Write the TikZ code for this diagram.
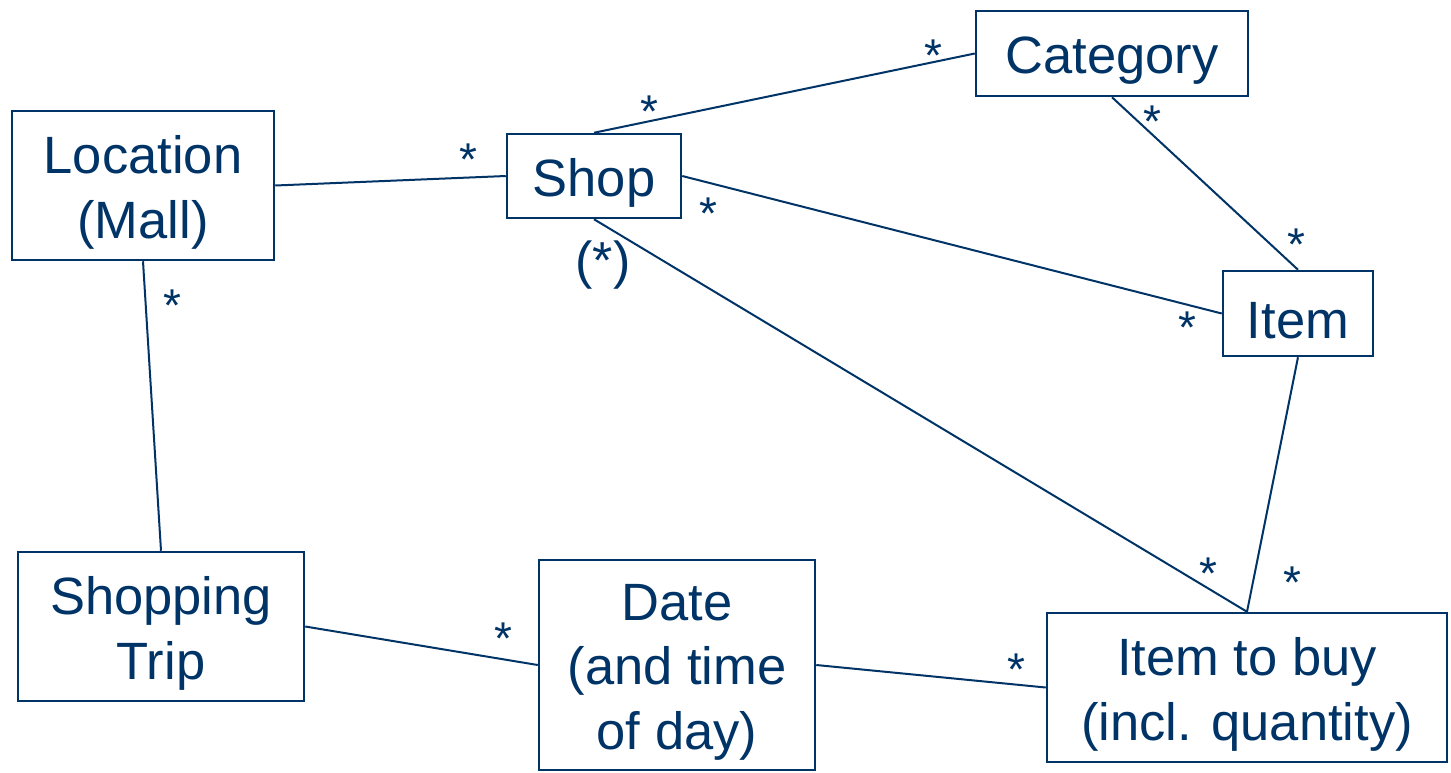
\documentclass[tikz,border=0pt]{standalone}
\usepackage{fontspec}
\setmainfont{Liberation Sans}
\definecolor{navy}{RGB}{0,51,102}
\begin{document}
\begin{tikzpicture}[x=1pt,y=-1pt,
  txt/.style={align=center, text=navy, inner sep=0pt, yshift=-7pt,
    font=\fontsize{52.5}{64.5}\selectfont},
  box/.style={draw=navy, line width=2.5pt, inner sep=0pt, label={[txt]center:{#1}}},
  conn/.style={draw=navy, line width=2pt},
  star/.style={text=navy, inner sep=0pt, font=\fontsize{46}{50}\selectfont}]
\useasboundingbox (0,0) rectangle (1451,772);
\node[box={Location\\(Mall)}, minimum width=262pt, minimum height=149pt] (loc) at (143,185.5) {};
\node[box={Shop}, minimum width=174pt, minimum height=84pt] (shop) at (594,176) {};
\node[box={Category}, minimum width=272pt, minimum height=85pt] (cat) at (1112,53.5) {};
\node[box={Item}, minimum width=150pt, minimum height=85pt] (item) at (1298,313.5) {};
\node[box={Shopping\\Trip}, minimum width=286pt, minimum height=149pt] (trip) at (161,626.5) {};
\node[box={Date\\(and time\\of day)}, minimum width=276pt, minimum height=210pt] (date) at (677,665) {};
\node[box={Item to buy\\(incl. quantity)}, minimum width=400pt, minimum height=149pt] (itb) at (1247,687.5) {};
\draw[conn] (loc.east) -- (shop.west);
\draw[conn] (shop.north) -- (cat.west);
\draw[conn] (shop.east) -- (item.west);
\draw[conn] (cat.south) -- (item.north);
\draw[conn] (shop.south) -- (itb.north);
\draw[conn] (item.south) -- (itb.north);
\draw[conn] (loc.south) -- (trip.north);
\draw[conn] (trip.east) -- (date.west);
\draw[conn] (date.east) -- (itb.west);
\node[star] (s1) at (468,160) {*};
\node[star] (s2) at (649,112) {*};
\node[star] (s3) at (933,56) {*};
\node[star] (s4) at (1152,122) {*};
\node[star] (s5) at (1296,245) {*};
\node[star] (s6) at (708,214) {*};
\node[star] (s7) at (1187,328) {*};
\node[star, font=\fontsize{52}{60}\selectfont] (s8) at (603,265) {(*)};
\node[star] (s9) at (172,306) {*};
\node[star] (s10) at (1208,574) {*};
\node[star] (s11) at (1292,583) {*};
\node[star] (s12) at (503,639) {*};
\node[star] (s13) at (1016,670) {*};
\end{tikzpicture}
\end{document}
